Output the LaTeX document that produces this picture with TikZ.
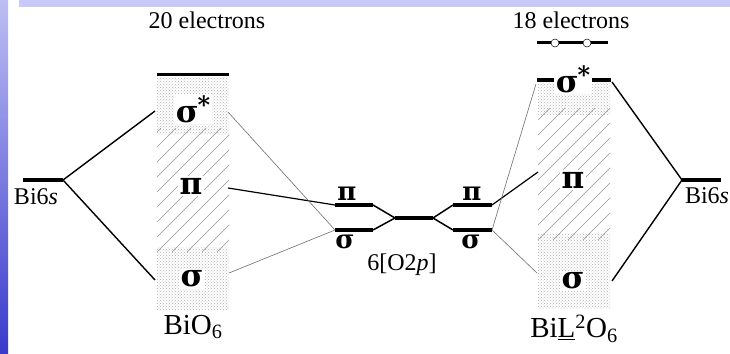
\documentclass[tikz,border=0pt]{standalone}
\usepackage{fontspec}
\setmainfont{Liberation Serif}
\newfontfamily\gk{DejaVu Serif}
\usetikzlibrary{patterns}
\definecolor{bandtop}{RGB}{201,201,249}
\definecolor{barhi}{RGB}{190,190,244}
\definecolor{barlo}{RGB}{58,58,204}
\definecolor{thin}{RGB}{110,110,110}
\definecolor{hatchc}{RGB}{150,150,150}
\tikzset{
  lvl/.style={line width=3.4pt},
  slant/.style={line width=1.5pt},
  conn/.style={line width=1.4pt},
  thinc/.style={line width=0.6pt, draw=thin},
  lab/.style={font=\fontsize{24}{26}\selectfont, inner sep=1pt},
  glab/.style={font=\gk\bfseries\fontsize{31}{33}\selectfont, inner sep=1.5pt, fill=white},
  mlab/.style={font=\gk\bfseries\fontsize{26}{28}\selectfont, inner sep=0pt},
  dotsreg/.style={pattern=crosshatch dots, pattern color=gray!60},
  hatchl/.style={line width=0.6pt, draw=hatchc},
}
\newcommand{\sstar}{σ\kern-1pt\raisebox{0.3em}{\fontsize{24}{24}\selectfont *}}
\begin{document}
\begin{tikzpicture}[x=1pt,y=-1pt]
\useasboundingbox (0,0) rectangle (730,353);
\fill[white] (0,0) rectangle (730,353);
% background bands
\fill[bandtop] (19,0) rectangle (730,7);
\shade[top color=barhi, bottom color=barlo] (0,0) rectangle (8,353);

% ---------- BiO6 box ----------
\fill[dotsreg] (157,77) rectangle (229,134);
\fill[dotsreg] (157,247) rectangle (229,309);
\begin{scope}
  \clip (157,128) rectangle (229,252);
  \foreach \i in {-10,...,6} {
    \draw[hatchl] (157+\i*15,252) -- ++(130,-130);
  }
\end{scope}
\draw[lvl,line width=3pt] (157,74) -- (229,74);
\node[glab] (Lss) at (193,109) {\sstar};
\node[glab] (Lpi) at (191,186) {π};
\node[glab] (Ls) at (192,279) {σ};
\node[lab,font=\fontsize{29}{31}\selectfont] (Lname) at (193,327) {BiO\textsubscript{6}};

% left Bi6s
\coordinate (LBa) at (23,180);
\coordinate (LBb) at (63,180);
\draw[lvl] (LBa) -- (LBb);
\node[lab] (LBlab) at (36,197) {Bi6\textit{s}};
\coordinate (Lssl) at (155,111);
\coordinate (Lsl) at (155,280);
\draw[conn] (LBb) -- (Lssl);
\draw[conn] (LBb) -- (Lsl);

% ---------- middle O2p ----------
\coordinate (mpiA) at (335,205);
\coordinate (mpiB) at (373,205);
\coordinate (msA) at (335,230);
\coordinate (msB) at (373,230);
\coordinate (mcA) at (395,218);
\coordinate (mcB) at (433,218);
\coordinate (npiA) at (453,205);
\coordinate (npiB) at (492,205);
\coordinate (nsA) at (453,230);
\coordinate (nsB) at (492,230);
\draw[lvl] (mpiA) -- (mpiB);
\draw[lvl] (msA) -- (msB);
\draw[lvl] (mcA) -- (mcB);
\draw[lvl] (npiA) -- (npiB);
\draw[lvl] (nsA) -- (nsB);
\draw[slant] (mpiB) -- (mcA);
\draw[slant] (msB) -- (mcA);
\draw[slant] (mcB) -- (npiA);
\draw[slant] (mcB) -- (nsA);
\node[mlab] (p1) at (347,194) {π};
\node[mlab] (p2) at (472,194) {π};
\node[mlab] (s1) at (345,242) {σ};
\node[mlab] (s2) at (471,242) {σ};
\node[lab] (o2p) at (402,265) {6[O2\textit{p}]};

% left connections to middle
\coordinate (Lpir) at (228,188);
\coordinate (Lssr) at (228,112);
\coordinate (Lsr) at (229,273);
\draw[conn,line width=1.2pt] (Lpir) -- (mpiA);
\draw[thinc] (Lssr) -- (msA);
\draw[thinc] (Lsr) -- (msA);

% ---------- BiL2O6 box ----------
\fill[dotsreg] (538,82) rectangle (610,114);
\fill[dotsreg] (538,233) rectangle (610,308);
\begin{scope}
  \clip (538,108) rectangle (610,240);
  \foreach \i in {-10,...,6} {
    \draw[hatchl] (538+\i*15,240) -- ++(140,-140);
  }
\end{scope}
\coordinate (RssA) at (537,80);
\coordinate (RssB) at (611,80);
\draw[lvl] (RssA) -- (RssB);
\node[glab] (Rss) at (573,79) {\sstar};
\node[glab] (Rpi) at (573,180) {π};
\node[glab] (Rs) at (573,281) {σ};
\node[lab,font=\fontsize{29}{31}\selectfont] (Rname) at (574,329) {Bi\underline{L}\textsuperscript{2}O\textsubscript{6}};

% empty level with two holes
\coordinate (hA) at (537,43);
\coordinate (hB) at (608,43);
\draw[lvl,line width=3pt] (hA) -- (hB);
\node[circle,draw,fill=white,line width=0.5pt,minimum size=8pt,inner sep=0pt] (h1) at (555,43) {};
\node[circle,draw,fill=white,line width=0.5pt,minimum size=8pt,inner sep=0pt] (h2) at (587,43) {};

% right Bi6s
\coordinate (RBa) at (682,180);
\coordinate (RBb) at (721,180);
\draw[lvl] (RBa) -- (RBb);
\node[lab] (RBlab) at (707,196) {Bi6\textit{s}};
\coordinate (Rssr) at (612,82);
\coordinate (Rsr) at (612,281);
\draw[conn] (RBa) -- (Rssr);
\draw[conn] (RBa) -- (Rsr);

% right connections to middle
\coordinate (Rpil) at (538,172);
\coordinate (Rssl) at (536,84);
\coordinate (Rsl) at (537,273);
\draw[conn,line width=1.2pt] (npiB) -- (Rpil);
\draw[thinc] (nsB) -- (Rssl);
\draw[thinc] (nsB) -- (Rsl);

% titles
\node[lab] (t20) at (207,20) {20 electrons};
\node[lab] (t18) at (571,20) {18 electrons};
\end{tikzpicture}
\end{document}
